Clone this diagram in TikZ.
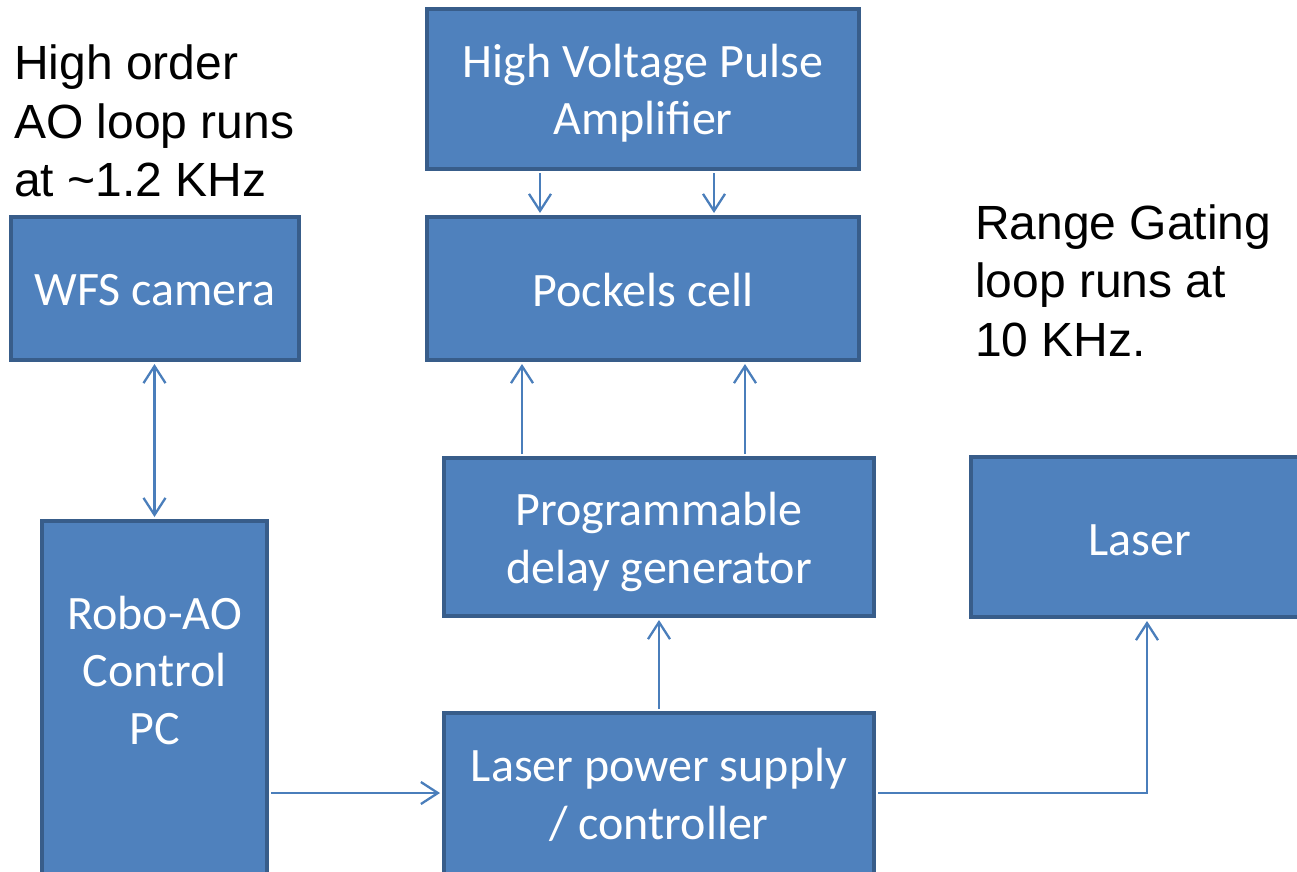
\documentclass[tikz,border=0pt]{standalone}
\usepackage{fontspec}
\setmainfont{Carlito}
\newfontfamily\arialfont{Liberation Sans}
\usetikzlibrary{arrows.meta}
\definecolor{boxfill}{HTML}{4F81BD}
\definecolor{boxline}{HTML}{385D8A}
\definecolor{connc}{HTML}{4A7EBB}
\begin{document}
\begin{tikzpicture}[x=1pt,y=-1pt,
  box/.style={draw=boxline, fill=boxfill, line width=4pt, inner sep=0pt},
  boxtext/.style={text=white, align=center, font=\fontsize{48}{57.5}\selectfont, inner sep=0pt},
  note/.style={text=black, align=left, font=\arialfont\fontsize{48}{58.5}\selectfont, inner sep=0pt},
  conn/.style={draw=connc, line width=2.4pt, shorten <=2pt, shorten >=2pt},
  tip/.style={-{Straight Barb[length=17pt,width=22pt,line width=2.3pt]}},
  dtip/.style={{Straight Barb[length=17pt,width=22pt,line width=2.3pt]}-{Straight Barb[length=17pt,width=22pt,line width=2.3pt]}}
]
\useasboundingbox (0,0) rectangle (1297,871);
\clip (0,0) rectangle (1297,871);

% boxes
\node[box, minimum width=432pt, minimum height=160pt,
  label={[boxtext, yshift=-4pt]center:High Voltage Pulse\\Amplifier}] (hv) at (643,89) {};
\node[box, minimum width=432pt, minimum height=143pt,
  label={[boxtext, yshift=-1.5pt]center:Pockels cell}] (pc) at (643,288.5) {};
\node[box, minimum width=288pt, minimum height=143pt,
  label={[boxtext, yshift=-1.5pt]center:WFS camera}] (wfs) at (155,288.5) {};
\node[box, minimum width=430pt, minimum height=158pt,
  label={[boxtext, yshift=-5pt]center:Programmable\\delay generator}] (dg) at (659,537) {};
\node[box, minimum width=337pt, minimum height=160pt,
  label={[boxtext, yshift=-3pt]center:Laser}] (las) at (1139.5,537) {};
\node[box, minimum width=225pt, minimum height=430pt] (robo) at (154.5,736) {};
\node[boxtext] (robotext) at (154.5,670) {Robo-AO\\Control\\PC};
\node[box, minimum width=430pt, minimum height=164pt,
  label={[boxtext]center:Laser power supply\\/ controller}] (lps) at (659,795) {};

% annotations
\node[note, anchor=north west] (ho) at (14,45) {High order\\AO loop runs\\at \textasciitilde1.2 KHz};
\node[note, anchor=north west] (rg) at (975,204.5) {Range Gating\\loop runs at\\10 KHz.};

% connectors
\draw[conn, tip] (540,0 |- hv.south) -- (540,0 |- pc.north);
\draw[conn, tip] (714,0 |- hv.south) -- (714,0 |- pc.north);
\draw[conn, tip] (522,0 |- dg.north) -- (522,0 |- pc.south);
\draw[conn, tip] (745,0 |- dg.north) -- (745,0 |- pc.south);
\draw[conn, dtip] (154.5,0 |- wfs.south) -- (robo.north);
\draw[conn, tip] (robo.east |- 0,793) -- (lps.west |- 0,793);
\draw[conn, tip] (lps.north) -- (dg.south);
\coordinate (bend) at (1147,793);
\draw[conn, tip] (lps.east |- bend) -- (bend) -- (bend |- las.south);
\end{tikzpicture}
\end{document}
